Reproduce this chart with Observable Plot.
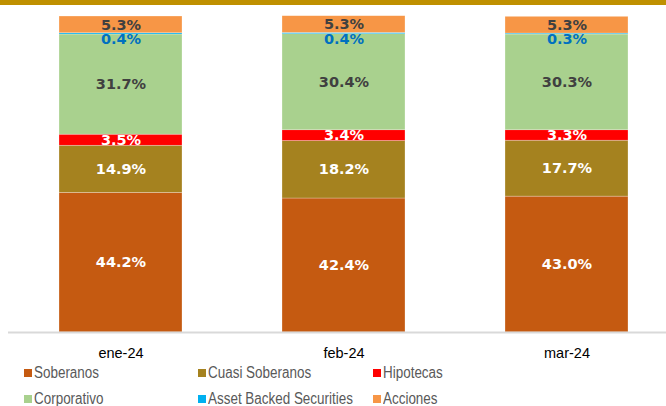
<!DOCTYPE html>
<html>
<head>
<meta charset="utf-8">
<script src="https://cdn.jsdelivr.net/npm/d3@7"></script>
<script src="https://cdn.jsdelivr.net/npm/@observablehq/plot@0.6"></script>
<style>
  html, body { margin: 0; padding: 0; background: #fff; }
  #wrap { position: relative; width: 666px; height: 406px; overflow: hidden; }
  #topline { position: absolute; left: 0; top: 0; width: 666px; height: 5px; background: #BF9000; }
  #chart { position: absolute; left: 0; top: 5px; }
  .lg { position: absolute; font-family: "Liberation Sans", Arial, sans-serif; font-size: 16px; line-height: 16px; color: #595959; white-space: nowrap; transform: scaleX(0.84); transform-origin: 0 50%; }
  .sw { position: absolute; width: 8px; height: 8px; }
</style>
</head>
<body>
<div id="wrap">
  <div id="topline"></div>
  <div id="chart"></div>
  <div id="legend"></div>
</div>
<script>
const categories = ["ene-24", "feb-24", "mar-24"];
const series = ["Soberanos", "Cuasi Soberanos", "Hipotecas", "Corporativo", "Asset Backed Securities", "Acciones"];
const soberanos = [44.2, 42.4, 43.0];
const cuasiSoberanos = [14.9, 18.2, 17.7];
const hipotecas = [3.5, 3.4, 3.3];
const corporativo = [31.7, 30.4, 30.3];
const assetBacked = [0.4, 0.4, 0.3];
const acciones = [5.3, 5.3, 5.3];
const colors = ["#C55A11", "#A5821F", "#FF0000", "#A9D18E", "#00B0F0", "#F79646"];

const valuesBySeries = [soberanos, cuasiSoberanos, hipotecas, corporativo, assetBacked, acciones];

// stacked rows (data units)
const rows = [];
categories.forEach((cat, i) => {
  let acc = 0;
  series.forEach((s, j) => {
    const v = valuesBySeries[j][i];
    rows.push({cat, series: s, value: v, y1: acc, y2: acc + v, mid: acc + v / 2});
    acc += v;
  });
});
const fmt = d => d.value.toFixed(1) + "%";
const whiteRows = rows.filter(d => ["Soberanos", "Cuasi Soberanos", "Hipotecas"].includes(d.series));
const grayRows = rows.filter(d => ["Corporativo", "Acciones"].includes(d.series));
const blueRows = rows.filter(d => d.series === "Asset Backed Securities");

const labelStyle = {fontWeight: "bold", fontSize: 14.5, fontFamily: "DejaVu Sans, Verdana, sans-serif"};

const plot = Plot.plot({
  width: 666,
  height: 362,
  marginTop: 11,
  marginBottom: 35,
  marginLeft: 8,
  marginRight: 0,
  style: {fontFamily: "'Liberation Sans', Arial, sans-serif", fontSize: "14.5px", color: "#000", background: "transparent"},
  x: {domain: categories, range: [14.3, 672.7], paddingInner: 0.45, paddingOuter: 0.2, label: null, tickSize: 0, tickPadding: 15},
  y: {domain: [0, 100], axis: null},
  color: {domain: series, range: colors},
  marks: [
    Plot.barY(rows, {x: "cat", y1: "y1", y2: "y2", fill: "series", stroke: "#fff", strokeOpacity: 0.45, strokeWidth: 0.6}),
    Plot.ruleY([0], {stroke: "#D9D9D9", strokeWidth: 2}),
    Plot.text(whiteRows, {x: "cat", y: "mid", text: fmt, fill: "#ffffff", ...labelStyle}),
    Plot.text(grayRows, {x: "cat", y: "mid", text: fmt, fill: "#404040", ...labelStyle}),
    Plot.text(blueRows, {x: "cat", y: "y1", dy: 5, text: fmt, fill: "#0070C0", ...labelStyle})
  ]
});
document.getElementById("chart").appendChild(plot);

// legend
const legend = document.getElementById("legend");
const colX = [24, 198, 373];
const rowY = [373, 399];
series.forEach((s, k) => {
  const c = k % 3, r = Math.floor(k / 3);
  const sw = document.createElement("div");
  sw.className = "sw";
  sw.style.left = colX[c] + "px";
  sw.style.top = (rowY[r] - 4) + "px";
  sw.style.background = colors[k];
  legend.appendChild(sw);
  const t = document.createElement("div");
  t.className = "lg";
  t.style.left = (colX[c] + 10) + "px";
  t.style.top = (rowY[r] - 8) + "px";
  t.textContent = s;
  legend.appendChild(t);
});
</script>
</body>
</html>
